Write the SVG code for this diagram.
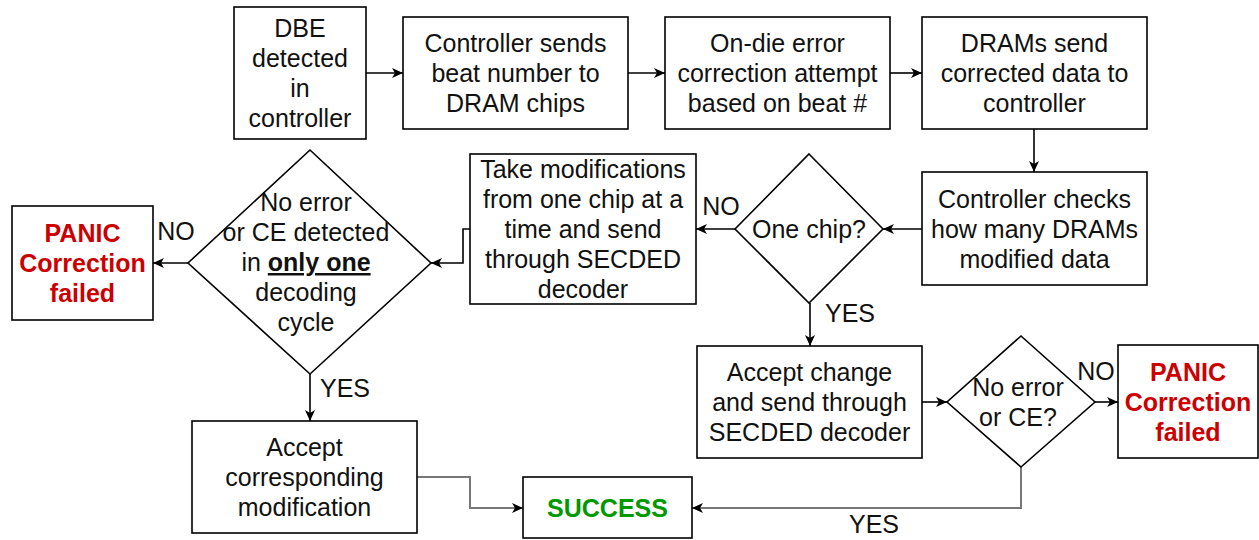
<svg xmlns="http://www.w3.org/2000/svg" width="1259" height="540" viewBox="0 0 1259 540">
<defs>
<marker id="arr" markerUnits="userSpaceOnUse" markerWidth="12" markerHeight="12" refX="11" refY="6" orient="auto">
<path d="M0,1 L11,6 L0,11 L3,6 Z" fill="#000"/>
</marker>
<style>
.box{fill:#fff;stroke:#000;stroke-width:1.6}
.t{font-family:"Liberation Sans",Arial,sans-serif;font-size:25px;fill:#111;text-anchor:middle}
.b{font-weight:bold}
.red{fill:#cc0000}
.grn{fill:#009900}
.c{fill:none;stroke:#000;stroke-width:1.6;marker-end:url(#arr)}
.g{stroke:#777;stroke-width:2}
.lbl{font-family:"Liberation Sans",Arial,sans-serif;font-size:25px;fill:#111;text-anchor:middle}
</style>
</defs>
<rect width="1259" height="540" fill="#fff"/>
<g id="connectors">
<path class="c" d="M366,73 L403,73"/>
<path class="c" d="M628,73 L665,73"/>
<path class="c" d="M890,73 L922,73"/>
<path class="c" d="M1034,129 L1034,172"/>
<path class="c" d="M922,229 L883,229"/>
<path class="c" d="M735,229 L696,229"/>
<path class="c" d="M470,229 L463,229 L463,263 L431,263"/>
<path class="c" d="M188,263 L153,263"/>
<path class="c" d="M310,374 L310,421"/>
<path class="c" d="M810,303 L810,346"/>
<path class="c" d="M922,402 L947,402"/>
<path class="c" d="M1095,402 L1118,402"/>
<path class="c g" d="M1021,467 L1021,508 L692,508"/>
<path class="c g" d="M417,477 L470,477 L470,508 L523,508"/>
<text class="lbl" x="721" y="215">NO</text>
<text class="lbl" x="176" y="240">NO</text>
<text class="lbl" x="1096" y="380">NO</text>
<text class="lbl" x="850" y="322">YES</text>
<text class="lbl" x="345" y="397">YES</text>
<text class="lbl" x="874" y="533">YES</text>
</g>
<g id="dbe">
<rect class="box" x="234" y="7" width="132" height="132"/>
<text class="t" x="300" y="37">DBE</text>
<text class="t" x="300" y="67">detected</text>
<text class="t" x="300" y="97">in</text>
<text class="t" x="300" y="127">controller</text>
</g>
<g id="sendbeat">
<rect class="box" x="403" y="17" width="225" height="112"/>
<text class="t" x="515.5" y="52">Controller sends</text>
<text class="t" x="515.5" y="82">beat number to</text>
<text class="t" x="515.5" y="112">DRAM chips</text>
</g>
<g id="ondie">
<rect class="box" x="665" y="17" width="225" height="112"/>
<text class="t" x="777.5" y="52">On-die error</text>
<text class="t" x="777.5" y="82">correction attempt</text>
<text class="t" x="777.5" y="112">based on beat #</text>
</g>
<g id="dramssend">
<rect class="box" x="922" y="17" width="225" height="112"/>
<text class="t" x="1034.5" y="52">DRAMs send</text>
<text class="t" x="1034.5" y="82">corrected data to</text>
<text class="t" x="1034.5" y="112">controller</text>
</g>
<g id="checks">
<rect class="box" x="922" y="172" width="225" height="113"/>
<text class="t" x="1034.5" y="208">Controller checks</text>
<text class="t" x="1034.5" y="238">how many DRAMs</text>
<text class="t" x="1034.5" y="268">modified data</text>
</g>
<g id="onechip">
<polygon class="box" points="809,154 883,229 809,303 735,229"/>
<text class="t" x="809" y="238">One chip?</text>
</g>
<g id="takemods">
<rect class="box" x="470" y="154" width="226" height="150"/>
<text class="t" x="583" y="178">Take modifications</text>
<text class="t" x="583" y="208">from one chip at a</text>
<text class="t" x="583" y="238">time and send</text>
<text class="t" x="583" y="268">through SECDED</text>
<text class="t" x="583" y="298">decoder</text>
</g>
<g id="onlyone">
<polygon class="box" points="310,150 431,263 310,374 188,263"/>
<text class="t" x="306" y="211">No error</text>
<text class="t" x="306" y="241">or CE detected</text>
<text class="t" x="306" y="271">in <tspan class="b" text-decoration="underline">only one</tspan></text>
<text class="t" x="306" y="301">decoding</text>
<text class="t" x="306" y="331">cycle</text>
</g>
<g id="panic1">
<rect class="box" x="12" y="206" width="141" height="114"/>
<text class="t b red" x="82.5" y="242">PANIC</text>
<text class="t b red" x="82.5" y="272">Correction</text>
<text class="t b red" x="82.5" y="302">failed</text>
</g>
<g id="acceptmod">
<rect class="box" x="192" y="421" width="225" height="112"/>
<text class="t" x="304.5" y="456">Accept</text>
<text class="t" x="304.5" y="486">corresponding</text>
<text class="t" x="304.5" y="516">modification</text>
</g>
<g id="acceptchange">
<rect class="box" x="697" y="346" width="225" height="112"/>
<text class="t" x="809.5" y="381">Accept change</text>
<text class="t" x="809.5" y="411">and send through</text>
<text class="t" x="809.5" y="441">SECDED decoder</text>
</g>
<g id="noerror">
<polygon class="box" points="1021,336 1095,402 1021,467 947,402"/>
<text class="t" x="1018" y="396">No error</text>
<text class="t" x="1018" y="426">or CE?</text>
</g>
<g id="panic2">
<rect class="box" x="1118" y="345" width="140" height="113"/>
<text class="t b red" x="1188" y="381">PANIC</text>
<text class="t b red" x="1188" y="411">Correction</text>
<text class="t b red" x="1188" y="441">failed</text>
</g>
<g id="success">
<rect class="box" x="523" y="477" width="169" height="61"/>
<text class="t b grn" x="607.5" y="517">SUCCESS</text>
</g>
</svg>
